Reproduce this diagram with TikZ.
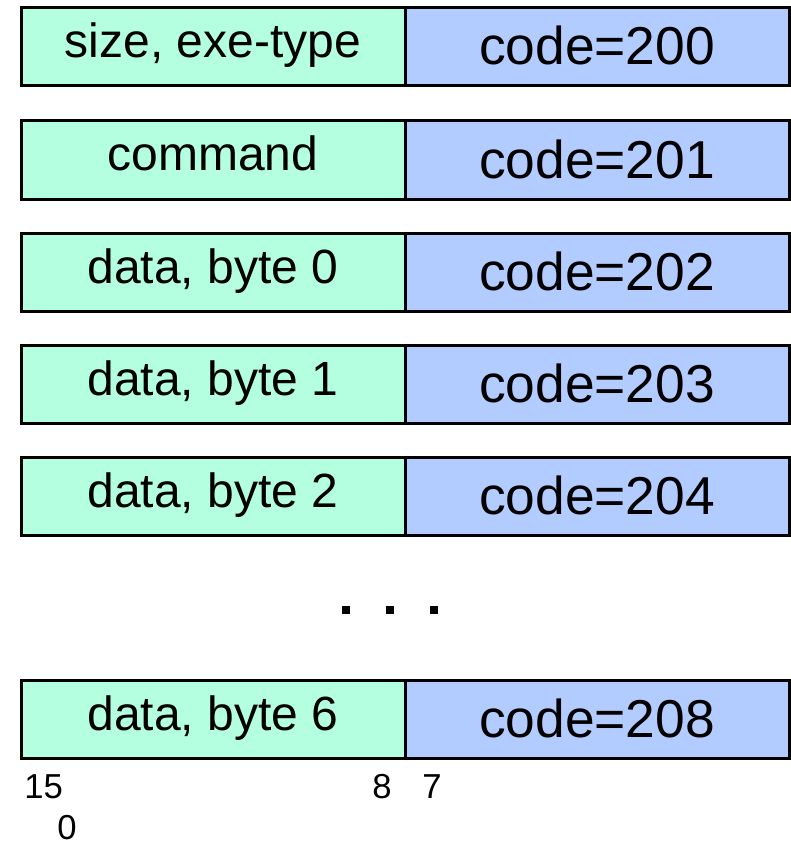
\documentclass[tikz,border=0pt]{standalone}
\usepackage{fontspec}
\setmainfont{Liberation Sans}
\definecolor{cgreen}{RGB}{179,255,224}
\definecolor{cblue}{RGB}{179,204,255}
\begin{document}
\begin{tikzpicture}[x=0.75pt,y=-0.75pt]
\useasboundingbox (0,0) rectangle (790,845);
\tikzset{
  cell/.style={draw=black,line width=2.25pt,inner sep=0pt,outer sep=0pt,minimum width=288pt,minimum height=58.5pt,anchor=north west},
  lcell/.style={cell,fill=cgreen},
  rcell/.style={cell,fill=cblue},
  ltext/.style={anchor=base,inner sep=0pt,font=\fontsize{36}{43}\selectfont},
  rtext/.style={anchor=base,inner sep=0pt,font=\fontsize{40}{48}\selectfont},
  bitlbl/.style={anchor=base west,inner sep=0pt,font=\fontsize{26}{31}\selectfont},
  dot/.style={fill=black,draw=none,minimum size=6pt,inner sep=0pt}
}
\foreach \i/\top/\ltxt/\rtxt in {1/8/{size, exe-type}/code=200, 2/121/command/code=201, 3/233/{data, byte 0}/code=202, 4/345/{data, byte 1}/code=203, 5/457/{data, byte 2}/code=204, 6/680/{data, byte 6}/code=208}{
  \node[lcell] (L\i) at (21,\top) {};
  \node[rcell] (R\i) at (405,\top) {};
  \node[ltext] (LT\i) at ([yshift=-37.5pt]L\i.north) {\ltxt};
  \node[rtext] (RT\i) at ([yshift=-42.75pt]R\i.north) {\rtxt};
}
\node[dot] (d1) at (346,610) {};
\node[dot] (d2) at (390,610) {};
\node[dot] (d3) at (434,610) {};
\node[bitlbl] (b15) at (24,798) {15};
\node[bitlbl] (b8) at (372,798) {8};
\node[bitlbl] (b7) at (422,798) {7};
\node[bitlbl] (b0) at (57,839) {0};
\end{tikzpicture}
\end{document}
